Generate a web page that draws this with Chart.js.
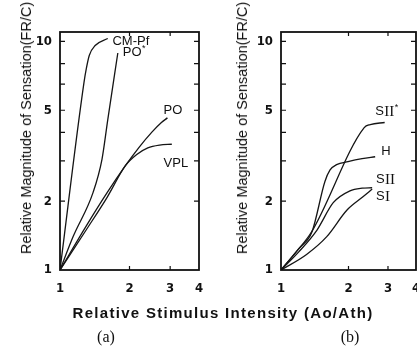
<!DOCTYPE html>
<html>
<head>
<meta charset="utf-8">
<script src="https://cdn.jsdelivr.net/npm/chart.js@4.4.1/dist/chart.umd.min.js"></script>
<style>
  body { margin: 0; background: #fff; width: 417px; height: 349px; overflow: hidden; position: relative; color: #111; font-family: 'Liberation Sans', Arial, sans-serif; }
  canvas { position: absolute; top: 0; }
  #chartA { left: 0; }
  #chartB { left: 221px; }
  .ytitle { position: absolute; font-size: 14.5px; white-space: nowrap; transform: translate(-50%, -50%) rotate(-90deg); }
  .xtitle { position: absolute; left: 223px; top: 312px; transform: translate(-50%, -50%); font-size: 15px; font-weight: bold; letter-spacing: 1.3px; white-space: nowrap; }
  .caption { position: absolute; top: 337px; transform: translate(-50%, -50%); font-family: 'Liberation Serif', 'Times New Roman', serif; font-size: 16px; }
</style>
</head>
<body>
<canvas id="chartA" width="210" height="349"></canvas>
<canvas id="chartB" width="196" height="349"></canvas>
<div class="ytitle" style="left:26px; top:128px;">Relative Magnitude of Sensation(FR/C)</div>
<div class="ytitle" style="left:242px; top:128px;">Relative Magnitude of Sensation(FR/C)</div>
<div class="xtitle">Relative Stimulus Intensity (Ao/Ath)</div>
<div class="caption" style="left:106px;">(a)</div>
<div class="caption" style="left:350px;">(b)</div>
<script>
// axis ticks
const X_TICKS = [1, 2, 3, 4];
const Y_TICKS = [1, 2, 5, 10];
const X_MARKS = [2, 3];
const Y_MARKS = [2, 3, 4, 5, 6.5, 8, 10];

// panel (a): relative stimulus (x) vs relative sensation (y)
const CMPF_X = [1, 1.27, 1.30, 1.34, 1.42, 1.61];
const CMPF_Y = [1, 6.6, 7.6, 8.7, 9.6, 10.3];
const POSTAR_X = [1, 1.14, 1.39, 1.52, 1.61, 1.78];
const POSTAR_Y = [1, 1.40, 2.18, 3.05, 4.54, 8.9];
const PO_X = [1, 1.3, 1.6, 1.92, 2.2, 2.5, 2.75, 2.92];
const PO_Y = [1, 1.56, 2.18, 2.86, 3.44, 4.01, 4.42, 4.63];
const VPL_X = [1, 1.3, 1.6, 1.92, 2.15, 2.4, 2.7, 3.05];
const VPL_Y = [1, 1.5, 2.08, 2.86, 3.2, 3.42, 3.52, 3.55];

// panel (b)
const SIISTAR_X = [1, 1.17, 1.37, 2.35, 2.5, 2.9];
const SIISTAR_Y = [1, 1.2, 1.47, 4.2, 4.33, 4.42];
const H_X = [1, 1.2, 1.375, 1.57, 1.655, 1.77, 1.99, 2.3, 2.63];
const H_Y = [1, 1.24, 1.47, 2.44, 2.74, 2.89, 2.98, 3.07, 3.13];
const SII_X = [1, 1.2, 1.45, 1.71, 2.03, 2.3, 2.55];
const SII_Y = [1, 1.2, 1.5, 1.97, 2.22, 2.28, 2.29];
const SI_X = [1, 1.3, 1.6, 1.97, 2.32, 2.55];
const SI_Y = [1, 1.17, 1.4, 1.83, 2.09, 2.26];

const SANS = "13px 'Liberation Sans', Arial, sans-serif";
const SERIF = "15px 'Liberation Serif', 'Times New Roman', serif";
const SUP = "9px 'Liberation Sans', Arial, sans-serif";

// curve names, anchored (left, middle) at a data point
const LABELS_A = [
  { x: 1.687, y: 10.0, parts: [{ t: 'CM-Pf' }] },
  { x: 1.87, y: 8.94, parts: [{ t: 'PO' }, { t: '*', sup: true }] },
  { x: 2.81, y: 4.98, parts: [{ t: 'PO' }] },
  { x: 2.81, y: 2.92, parts: [{ t: 'VPL' }] }
];
const LABELS_B = [
  { x: 2.63, y: 4.93, parts: [{ t: 'S' }, { t: 'II', serif: true }, { t: '*', sup: true }] },
  { x: 2.80, y: 3.29, parts: [{ t: 'H' }] },
  { x: 2.65, y: 2.48, parts: [{ t: 'S' }, { t: 'II', serif: true }] },
  { x: 2.65, y: 2.09, parts: [{ t: 'S' }, { t: 'I', serif: true }] }
];

function points(xs, ys) {
  return xs.map((x, i) => ({ x: x, y: ys[i] }));
}

function line(xs, ys) {
  return {
    data: points(xs, ys),
    borderColor: '#151515',
    borderWidth: 1.3,
    pointRadius: 0,
    fill: false,
    cubicInterpolationMode: 'monotone'
  };
}

// box frame, inward tick marks and curve names
const framePlugin = {
  id: 'frame',
  afterDraw(chart, args, opts) {
    const ctx = chart.ctx;
    const a = chart.chartArea;
    const x = chart.scales.x;
    const y = chart.scales.y;
    ctx.save();
    ctx.strokeStyle = '#111';
    ctx.lineWidth = 1.8;
    ctx.strokeRect(a.left, a.top, a.right - a.left, a.bottom - a.top);
    ctx.lineWidth = 1.2;
    ctx.beginPath();
    Y_MARKS.forEach(v => {
      const py = y.getPixelForValue(v);
      ctx.moveTo(a.left, py); ctx.lineTo(a.left + 5, py);
      ctx.moveTo(a.right, py); ctx.lineTo(a.right - 5, py);
    });
    X_MARKS.forEach(v => {
      const px = x.getPixelForValue(v);
      ctx.moveTo(px, a.bottom); ctx.lineTo(px, a.bottom - 4);
      ctx.moveTo(px, a.top); ctx.lineTo(px, a.top + 4);
    });
    ctx.stroke();

    ctx.fillStyle = '#111';
    ctx.textBaseline = 'middle';
    ctx.textAlign = 'left';
    (opts.labels || []).forEach(l => {
      let cx = x.getPixelForValue(l.x);
      const cy = y.getPixelForValue(l.y);
      l.parts.forEach(p => {
        ctx.font = p.sup ? SUP : (p.serif ? SERIF : SANS);
        ctx.fillText(p.t, cx, p.sup ? cy - 4 : cy);
        cx += ctx.measureText(p.t).width + (p.sup ? 0 : 0.5);
      });
    });
    ctx.restore();
  }
};

const tickFont = { family: "'Liberation Sans Narrow', 'DejaVu Sans Condensed', 'Liberation Sans', Arial", size: 13, weight: 'bold' };

function makeChart(id, datasets, labels, padRight) {
  return new Chart(document.getElementById(id), {
    type: 'line',
    data: { datasets: datasets },
    options: {
      responsive: false,
      animation: false,
      layout: { padding: { left: 0, top: 32, right: padRight, bottom: 49 } },
      plugins: { legend: { display: false }, tooltip: { enabled: false }, frame: { labels: labels } },
      scales: {
        x: {
          type: 'logarithmic', min: 1, max: 4,
          afterBuildTicks: s => { s.ticks = X_TICKS.map(v => ({ value: v })); },
          afterFit: s => { s.height = 30; s.paddingLeft = 0; s.paddingRight = 0; },
          ticks: { callback: v => String(v), font: tickFont, color: '#111', padding: 11, maxRotation: 0, autoSkip: false },
          grid: { display: false, drawTicks: false },
          border: { display: false }
        },
        y: {
          type: 'logarithmic', min: 1, max: 11,
          afterBuildTicks: s => { s.ticks = Y_TICKS.map(v => ({ value: v })); },
          afterFit: s => { s.width = 60; s.paddingTop = 0; s.paddingBottom = 0; },
          ticks: { callback: v => String(v), font: tickFont, color: '#111', padding: 8, autoSkip: false },
          grid: { display: false, drawTicks: false },
          border: { display: false }
        }
      }
    },
    plugins: [framePlugin]
  });
}

makeChart('chartA', [
  line(CMPF_X, CMPF_Y),
  line(POSTAR_X, POSTAR_Y),
  line(PO_X, PO_Y),
  line(VPL_X, VPL_Y)
], LABELS_A, 11);

makeChart('chartB', [
  line(SIISTAR_X, SIISTAR_Y),
  line(H_X, H_Y),
  line(SII_X, SII_Y),
  line(SI_X, SI_Y)
], LABELS_B, 1);
</script>
</body>
</html>
